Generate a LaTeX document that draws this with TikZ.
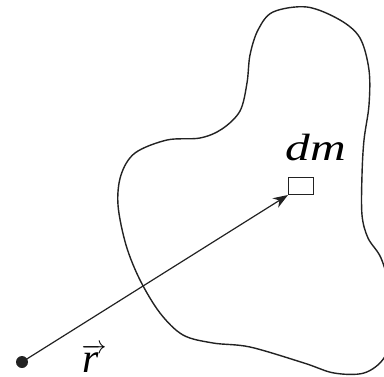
\documentclass[tikz,border=0pt]{standalone}
\usepackage{fontspec}
\setmainfont{Liberation Serif}
\usetikzlibrary{arrows.meta,positioning}
\definecolor{ink}{HTML}{222222}
\tikzset{bodyline/.style={draw=ink,line width=1.4pt},rline/.style={draw=ink,line width=1.2pt,-{Stealth[length=15pt,width=11pt]}},elembox/.style={draw=ink,line width=1.1pt,minimum width=25pt,minimum height=17pt,inner sep=0pt},symlabel/.style={font=\fontsize{38}{40}\selectfont\itshape,inner sep=0pt},pointdot/.style={circle,fill=ink,minimum size=12pt,inner sep=0pt}}

\begin{document}
\begin{tikzpicture}[x=1pt,y=-1pt]
\useasboundingbox (0,0) rectangle (384,376);
\clip (0,0) rectangle (384,376);
% outline of the body
\draw[bodyline] plot[smooth cycle,tension=.55] coordinates {(273,12) (307,7) (340,20) (360,38) (369,70) (369,105) (364,140) (362,175) (362,215) (368,238) (381,258) (390,290) (392,330) (384,358) (364,373) (334,373) (304,363) (250,347) (213,343) (183,335) (160,313) (140,280) (126,245) (118,205) (121,175) (135,153) (167,140) (200,138) (222,129) (240,111) (247,83) (250,55) (258,30)};
\node[symlabel,anchor=base] (dmtext) at (316,160) {\scalebox{1.3}[1]{dm}};
\node[elembox,anchor=south west] (elem) at (288,195) {};
\node[pointdot] (o) at (22,362) {};
\draw[rline] (o.center) -- (elem.south west);
\node[symlabel,anchor=base] (rtext) at (94,372) {\fontsize{42}{44}\selectfont$\overrightarrow{\mbox{\itshape r\,}}$};
\end{tikzpicture}
\end{document}
